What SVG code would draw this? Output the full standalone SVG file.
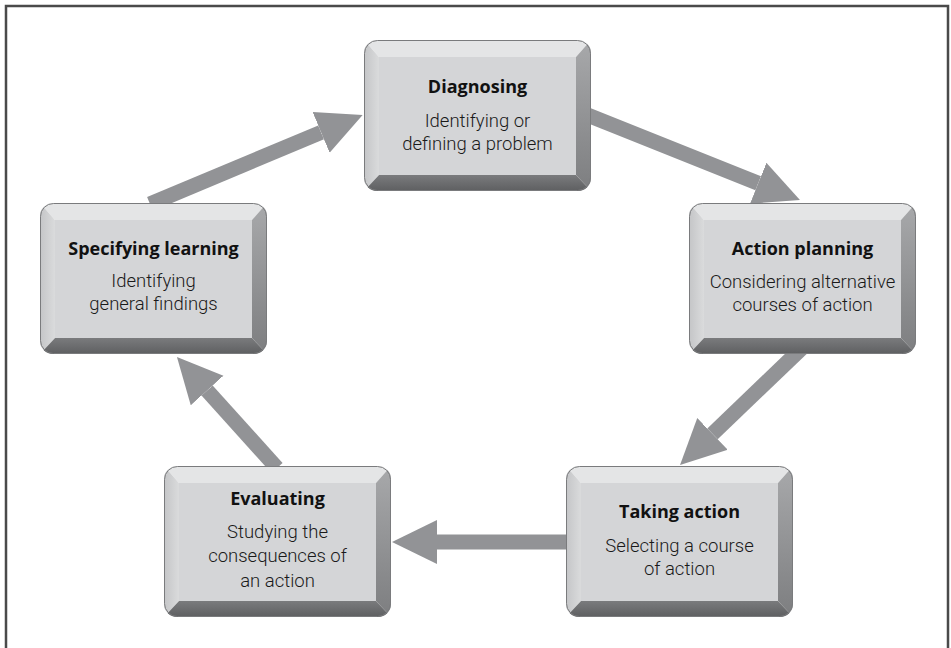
<svg xmlns="http://www.w3.org/2000/svg" xmlns:xlink="http://www.w3.org/1999/xlink" width="951" height="648" viewBox="0 0 951 648">
<style>
.arr{stroke:#929396;stroke-width:15;fill:none;marker-end:url(#head)}
.t{font-family:"Open Sans","Noto Sans","Liberation Sans",sans-serif;font-size:18px;font-weight:bold;fill:#111;text-anchor:middle}
.b{font-family:Roboto,"Open Sans","Liberation Sans",sans-serif;font-size:18.5px;font-weight:300;fill:#1a1a1a;text-anchor:middle}
</style>
<defs>
<marker id="head" markerUnits="userSpaceOnUse" markerWidth="50" markerHeight="50" viewBox="0 -25 50 50" refX="0" refY="0" orient="auto">
<path d="M0,-22 L45,0 L0,22 Z" fill="#929396"/>
</marker>
<linearGradient id="gr" x1="0" y1="0" x2="0" y2="1">
<stop offset="0" stop-color="#a8a9ab"/><stop offset="1" stop-color="#7d7e80"/>
</linearGradient>
<linearGradient id="gl" x1="0" y1="0" x2="1" y2="0">
<stop offset="0" stop-color="#c4c5c7"/><stop offset="1" stop-color="#dadbdc"/>
</linearGradient>
<linearGradient id="gb" x1="0" y1="0" x2="0" y2="1">
<stop offset="0" stop-color="#7a7b7d"/><stop offset="1" stop-color="#5e5f61"/>
</linearGradient>
<clipPath id="kc"><rect x="0" y="0" width="227" height="151" rx="13"/></clipPath>
<g id="key">
<g clip-path="url(#kc)">
<polygon points="0,0 227,0 212,17 15,17" fill="#e4e5e6"/>
<polygon points="0,0 15,17 15,135 0,151" fill="url(#gl)"/>
<polygon points="227,0 227,151 212,135 212,17" fill="url(#gr)"/>
<polygon points="0,151 15,135 212,135 227,151" fill="url(#gb)"/>
<rect x="15" y="17" width="197" height="118" fill="#d4d5d7"/>
</g>
<rect x="0.5" y="0.5" width="226" height="150" rx="13" fill="none" stroke="#7a7b7d" stroke-width="1"/>
</g>
</defs>
<rect width="951" height="648" fill="#fff"/>
<path d="M6,648 V6 H948 V648" fill="none" stroke="#4a4a4a" stroke-width="2.5"/>
<g id="connectors">
<line class="arr" x1="150" y1="204" x2="321.1" y2="132.4"/>
<line class="arr" x1="585" y1="114" x2="758.2" y2="183.3"/>
<line class="arr" x1="802" y1="348" x2="712.5" y2="433.9"/>
<line class="arr" x1="572" y1="542" x2="437" y2="542"/>
<line class="arr" x1="277" y1="468" x2="207.1" y2="390.5"/>
</g>
<g id="diagnosing">
<use xlink:href="#key" x="364" y="40"/>
<text class="t" x="477.5" y="93">Diagnosing</text>
<text class="b" x="477.5" y="127">Identifying or</text>
<text class="b" x="477.5" y="150">defining a problem</text>
</g>
<g id="action-planning">
<use xlink:href="#key" x="689" y="203"/>
<text class="t" x="802.5" y="255">Action planning</text>
<text class="b" x="802.5" y="288">Considering alternative</text>
<text class="b" x="802.5" y="311">courses of action</text>
</g>
<g id="taking-action">
<use xlink:href="#key" x="566" y="466"/>
<text class="t" x="679.5" y="518">Taking action</text>
<text class="b" x="679.5" y="552">Selecting a course</text>
<text class="b" x="679.5" y="575">of action</text>
</g>
<g id="evaluating">
<use xlink:href="#key" x="164" y="466"/>
<text class="t" x="277.5" y="505">Evaluating</text>
<text class="b" x="277.5" y="538">Studying the</text>
<text class="b" x="277.5" y="562">consequences of</text>
<text class="b" x="277.5" y="587">an action</text>
</g>
<g id="specifying-learning">
<use xlink:href="#key" x="40" y="203"/>
<text class="t" x="153.5" y="255">Specifying learning</text>
<text class="b" x="153.5" y="287">Identifying</text>
<text class="b" x="153.5" y="310">general findings</text>
</g>
</svg>
